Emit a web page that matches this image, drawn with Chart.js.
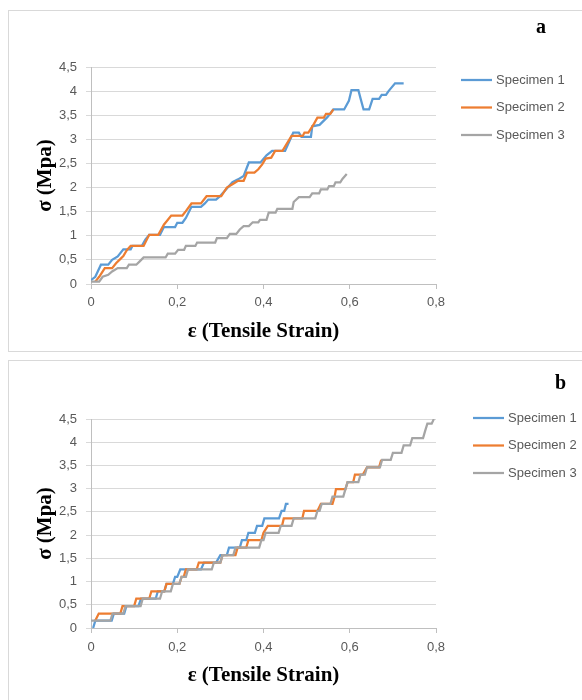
<!DOCTYPE html>
<html>
<head>
<meta charset="utf-8">
<script src="https://cdn.jsdelivr.net/npm/chart.js@4/dist/chart.umd.min.js"></script>
<style>
  body { margin: 0; background: #fff; width: 582px; height: 700px; position: relative; overflow: hidden; }
  .frame { position: absolute; border: 1px solid #d9d9d9; border-right: none; }
  #frameA { left: 8px; top: 10px; width: 580px; height: 340px; }
  #frameB { left: 8px; top: 360px; width: 580px; height: 345px; border-bottom: none; }
  canvas { position: absolute; left: 0; }
  #chart-a { top: 0; }
  #chart-b { top: 358px; }
  .tag { position: absolute; font: bold 20px "Liberation Serif", serif; line-height: 20px; color: #000; }
</style>
</head>
<body>
<div class="frame" id="frameA"></div>
<div class="frame" id="frameB"></div>
<canvas id="chart-a" width="582" height="357"></canvas>
<canvas id="chart-b" width="582" height="342"></canvas>
<div class="tag" style="left:536px; top:16px;">a</div>
<div class="tag" style="left:555px; top:372px;">b</div>
<script>
// --- chart a (strain, stress) ---
const a1Eps = [0, 0.01, 0.023, 0.04, 0.049, 0.062, 0.075, 0.092, 0.096, 0.118, 0.126, 0.135, 0.16, 0.169, 0.195, 0.2, 0.212, 0.22, 0.233, 0.255, 0.264, 0.272, 0.29, 0.298, 0.315, 0.328, 0.341, 0.354, 0.366, 0.393, 0.407, 0.42, 0.45, 0.459, 0.469, 0.482, 0.488, 0.51, 0.513, 0.53, 0.548, 0.562, 0.587, 0.598, 0.604, 0.62, 0.625, 0.632, 0.645, 0.653, 0.668, 0.674, 0.684, 0.69, 0.705, 0.725];
const a1Sig = [0.08, 0.15, 0.4, 0.4, 0.5, 0.57, 0.72, 0.72, 0.79, 0.79, 0.92, 1.02, 1.02, 1.18, 1.18, 1.27, 1.27, 1.37, 1.6, 1.6, 1.67, 1.75, 1.75, 1.81, 1.98, 2.11, 2.17, 2.24, 2.52, 2.52, 2.67, 2.76, 2.76, 2.94, 3.14, 3.14, 3.05, 3.05, 3.27, 3.3, 3.46, 3.62, 3.62, 3.8, 4.02, 4.02, 3.85, 3.62, 3.62, 3.84, 3.84, 3.92, 3.92, 4.0, 4.16, 4.16];

const a2Eps = [0.01, 0.019, 0.032, 0.049, 0.058, 0.066, 0.075, 0.083, 0.092, 0.122, 0.135, 0.156, 0.169, 0.186, 0.212, 0.22, 0.233, 0.255, 0.268, 0.302, 0.315, 0.328, 0.341, 0.354, 0.362, 0.379, 0.388, 0.397, 0.405, 0.418, 0.427, 0.444, 0.465, 0.491, 0.495, 0.504, 0.517, 0.525, 0.54, 0.545, 0.555, 0.562];
const a2Sig = [0.05, 0.15, 0.33, 0.33, 0.43, 0.5, 0.58, 0.7, 0.79, 0.79, 1.02, 1.02, 1.23, 1.42, 1.42, 1.51, 1.67, 1.67, 1.82, 1.82, 2.0, 2.07, 2.14, 2.14, 2.31, 2.31, 2.38, 2.48, 2.6, 2.62, 2.76, 2.76, 3.07, 3.07, 3.14, 3.14, 3.32, 3.45, 3.45, 3.53, 3.53, 3.62];

const a3Eps = [0, 0.019, 0.027, 0.04, 0.049, 0.062, 0.083, 0.088, 0.105, 0.113, 0.122, 0.173, 0.178, 0.195, 0.202, 0.216, 0.22, 0.242, 0.246, 0.288, 0.292, 0.315, 0.322, 0.337, 0.345, 0.354, 0.366, 0.375, 0.388, 0.392, 0.407, 0.412, 0.428, 0.432, 0.467, 0.47, 0.482, 0.507, 0.513, 0.529, 0.533, 0.548, 0.552, 0.563, 0.567, 0.578, 0.583, 0.593];
const a3Sig = [0.05, 0.05, 0.15, 0.19, 0.26, 0.33, 0.33, 0.4, 0.4, 0.47, 0.55, 0.55, 0.63, 0.63, 0.71, 0.71, 0.79, 0.79, 0.86, 0.86, 0.95, 0.95, 1.04, 1.04, 1.13, 1.2, 1.2, 1.28, 1.28, 1.33, 1.33, 1.48, 1.48, 1.56, 1.56, 1.7, 1.8, 1.8, 1.88, 1.88, 1.96, 1.96, 2.03, 2.03, 2.11, 2.11, 2.18, 2.28];

// --- chart b ---
const b1Eps = [0.005, 0.01, 0.048, 0.053, 0.077, 0.082, 0.11, 0.116, 0.15, 0.155, 0.17, 0.175, 0.19, 0.195, 0.2, 0.207, 0.255, 0.262, 0.29, 0.3, 0.315, 0.32, 0.345, 0.35, 0.36, 0.365, 0.38, 0.385, 0.397, 0.402, 0.436, 0.442, 0.448, 0.452, 0.458];
const b1Sig = [0, 0.16, 0.16, 0.31, 0.31, 0.47, 0.47, 0.63, 0.63, 0.79, 0.79, 0.95, 0.95, 1.1, 1.1, 1.26, 1.26, 1.41, 1.41, 1.57, 1.57, 1.73, 1.73, 1.89, 1.89, 2.05, 2.05, 2.2, 2.2, 2.36, 2.36, 2.52, 2.52, 2.67, 2.67];

const b2Eps = [0.01, 0.018, 0.068, 0.073, 0.1, 0.105, 0.135, 0.14, 0.17, 0.175, 0.205, 0.21, 0.215, 0.22, 0.245, 0.25, 0.3, 0.305, 0.335, 0.34, 0.36, 0.365, 0.395, 0.4, 0.41, 0.443, 0.447, 0.49, 0.494, 0.525, 0.533, 0.56, 0.565, 0.568, 0.59, 0.595, 0.608, 0.612, 0.63, 0.64, 0.668, 0.673];
const b2Sig = [0.16, 0.31, 0.31, 0.47, 0.47, 0.63, 0.63, 0.79, 0.79, 0.95, 0.95, 1.1, 1.1, 1.26, 1.26, 1.41, 1.41, 1.57, 1.57, 1.73, 1.73, 1.89, 1.89, 2.05, 2.2, 2.2, 2.36, 2.36, 2.52, 2.52, 2.67, 2.67, 2.83, 2.99, 2.99, 3.14, 3.14, 3.3, 3.3, 3.46, 3.46, 3.62];

const b3Eps = [0, 0.045, 0.05, 0.075, 0.08, 0.115, 0.12, 0.16, 0.165, 0.185, 0.19, 0.205, 0.21, 0.22, 0.225, 0.28, 0.285, 0.3, 0.305, 0.33, 0.335, 0.39, 0.395, 0.4, 0.405, 0.435, 0.44, 0.465, 0.47, 0.52, 0.525, 0.53, 0.535, 0.555, 0.56, 0.585, 0.59, 0.595, 0.62, 0.625, 0.635, 0.64, 0.67, 0.675, 0.695, 0.7, 0.72, 0.725, 0.74, 0.745, 0.77, 0.775, 0.78, 0.79, 0.795];
const b3Sig = [0.16, 0.16, 0.31, 0.31, 0.47, 0.47, 0.63, 0.63, 0.79, 0.79, 0.95, 0.95, 1.1, 1.1, 1.26, 1.26, 1.41, 1.41, 1.57, 1.57, 1.73, 1.73, 1.89, 1.89, 2.05, 2.05, 2.2, 2.2, 2.36, 2.36, 2.52, 2.52, 2.67, 2.67, 2.83, 2.83, 2.99, 3.14, 3.14, 3.3, 3.3, 3.46, 3.46, 3.62, 3.62, 3.77, 3.77, 3.93, 3.93, 4.09, 4.09, 4.25, 4.4, 4.4, 4.5];

const seriesNames = ['Specimen 1', 'Specimen 2', 'Specimen 3'];
const seriesColors = ['#5b9bd5', '#ed7d31', '#a5a5a5'];
const yTicks = [0, 0.5, 1, 1.5, 2, 2.5, 3, 3.5, 4, 4.5];
const xTicks = [0, 0.2, 0.4, 0.6, 0.8];

function toPoints(xs, ys) {
    return xs.map((x, i) => ({ x: x, y: ys[i] }));
}

// legend drawn by hand so it sits where Excel put it
const sideLegend = {
    id: 'sideLegend',
    afterDraw(chart, args, opts) {
        const ctx = chart.ctx;
        ctx.save();
        chart.data.datasets.forEach((ds, i) => {
            const y = opts.y0 + i * opts.gap;
            ctx.strokeStyle = ds.borderColor;
            ctx.lineWidth = 2.25;
            ctx.beginPath();
            ctx.moveTo(opts.x0, y);
            ctx.lineTo(opts.x0 + 31, y);
            ctx.stroke();
            ctx.fillStyle = '#595959';
            ctx.font = '13px "Liberation Sans", Arial, sans-serif';
            ctx.textBaseline = 'middle';
            ctx.fillText(ds.label, opts.x0 + 35, y);
        });
        ctx.restore();
    }
};

function makeChart(id, data, cfg) {
    const ctx = document.getElementById(id).getContext('2d');
    return new Chart(ctx, {
        type: 'scatter',
        data: {
            datasets: data.map((pts, i) => ({
                label: seriesNames[i],
                data: pts,
                showLine: true,
                borderColor: seriesColors[i],
                backgroundColor: seriesColors[i],
                borderWidth: 2.25,
                pointRadius: 0,
                tension: 0,
                order: 3 - i
            }))
        },
        options: {
            responsive: false,
            animation: false,
            devicePixelRatio: 1,
            layout: { padding: { left: 0, top: cfg.top, right: 146, bottom: 0 } },
            plugins: {
                legend: { display: false },
                tooltip: { enabled: false },
                sideLegend: cfg.legend
            },
            scales: {
                x: {
                    type: 'linear',
                    min: 0,
                    max: 0.8,
                    afterBuildTicks: (scale) => { scale.ticks = xTicks.map(v => ({ value: v })); },
                    afterFit: (scale) => { scale.height = cfg.xHeight; },
                    grid: { drawOnChartArea: false, drawTicks: true, tickLength: 5, color: '#bfbfbf' },
                    border: { color: '#bfbfbf' },
                    ticks: {
                        padding: cfg.xPad,
                        color: '#595959',
                        font: { family: '"Liberation Sans", Arial, sans-serif', size: 13 },
                        callback: (v) => String(Math.round(v * 10) / 10).replace('.', ',')
                    },
                    title: {
                        display: true,
                        text: 'ε (Tensile Strain)',
                        color: '#000',
                        font: { family: '"Liberation Serif", "Times New Roman", serif', size: 21, weight: 'bold' },
                        padding: { top: 0, bottom: cfg.xTitlePad }
                    }
                },
                y: {
                    min: 0,
                    max: 4.5,
                    afterBuildTicks: (scale) => { scale.ticks = yTicks.map(v => ({ value: v })); },
                    afterFit: (scale) => { scale.width = 91; },
                    grid: { color: '#d9d9d9', drawTicks: true, tickLength: 5 },
                    border: { color: '#bfbfbf' },
                    ticks: {
                        padding: 9,
                        color: '#595959',
                        font: { family: '"Liberation Sans", Arial, sans-serif', size: 13 },
                        callback: (v) => String(Math.round(v * 10) / 10).replace('.', ',')
                    },
                    title: {
                        display: true,
                        text: 'σ (Mpa)',
                        color: '#000',
                        font: { family: '"Liberation Serif", "Times New Roman", serif', size: 21, weight: 'bold' },
                        padding: { top: 33, bottom: 0 }
                    }
                }
            }
        },
        plugins: [sideLegend]
    });
}

document.addEventListener('DOMContentLoaded', () => {
    makeChart('chart-a', [toPoints(a1Eps, a1Sig), toPoints(a2Eps, a2Sig), toPoints(a3Eps, a3Sig)], {
        top: 67, xHeight: 73, xPad: 6, xTitlePad: 13,
        legend: { x0: 461, y0: 80, gap: 27.5 }
    });
    makeChart('chart-b', [toPoints(b1Eps, b1Sig), toPoints(b2Eps, b2Sig), toPoints(b3Eps, b3Sig)], {
        top: 61, xHeight: 72, xPad: 7, xTitlePad: 12,
        legend: { x0: 473, y0: 60, gap: 27.5 }
    });
});
</script>
</body>
</html>
